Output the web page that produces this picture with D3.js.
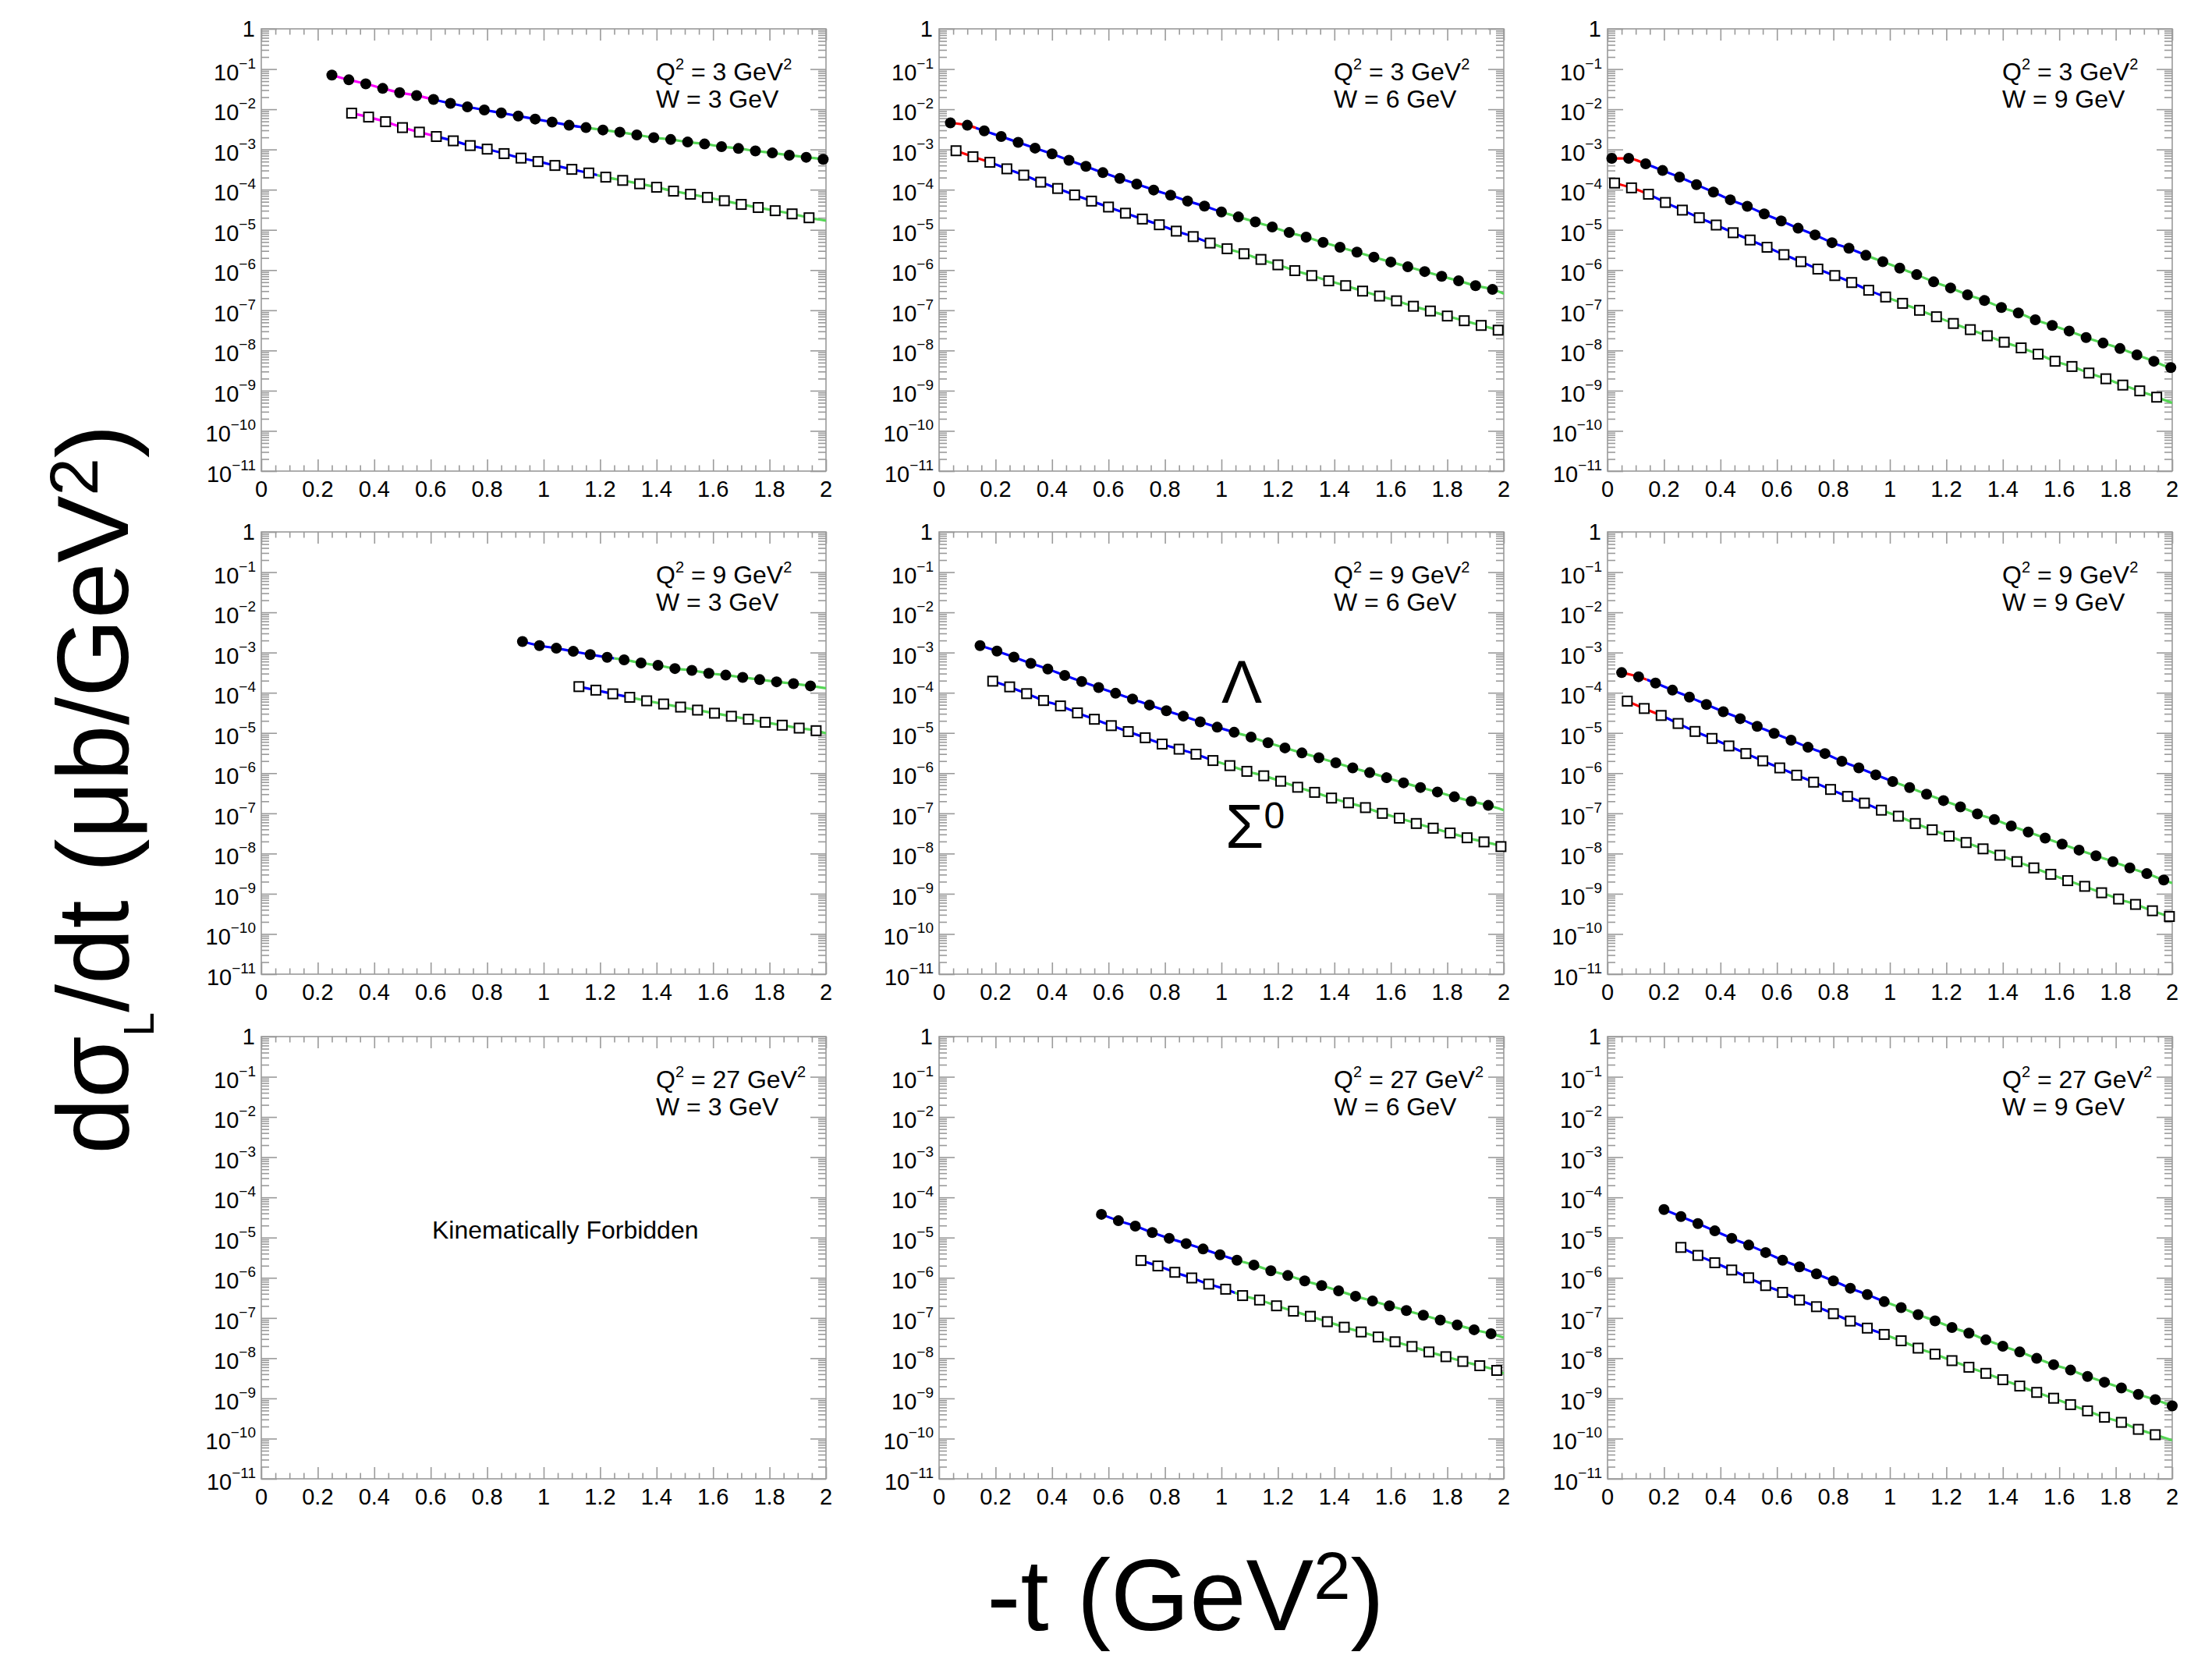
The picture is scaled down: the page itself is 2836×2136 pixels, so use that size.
<!DOCTYPE html>
<html><head><meta charset="utf-8">
<script src="https://cdn.jsdelivr.net/npm/d3@7"></script>
<style>
body{margin:0;background:#fff}
svg{display:block}
text{font-family:"Liberation Sans",Arial,Helvetica,sans-serif;fill:#000;white-space:pre}
</style>
</head><body>
<svg id="c" width="2836" height="2136"></svg>
<script>
// ---------------- DATA ----------------
const Q2_LIST = ["3","3","3","9","9","9","27","27","27"];
const W_LIST  = ["3","6","9","3","6","9","3","6","9"];
const xTickValues = [0,0.2,0.4,0.6,0.8,1,1.2,1.4,1.6,1.8,2];
const xTickLabels = ["0","0.2","0.4","0.6","0.8","1","1.2","1.4","1.6","1.8","2"];
const yTickExps = [0,-1,-2,-3,-4,-5,-6,-7,-8,-9,-10,-11];

// Q2=3, W=3
const tL_33 = [0.25,0.31,0.37,0.43,0.49,0.55,0.61,0.67,0.73,0.79,0.85,0.91,0.97,1.03,1.09,1.15,1.21,1.27,1.33,1.39,1.45,1.51,1.57,1.63,1.69,1.75,1.81,1.87,1.93,1.99];
const yL_33 = [7.1e-2,5.4e-2,4.3e-2,3.3e-2,2.6e-2,2.2e-2,1.75e-2,1.4e-2,1.15e-2,9.6e-3,8.1e-3,6.8e-3,5.7e-3,4.8e-3,4.0e-3,3.5e-3,3.05e-3,2.7e-3,2.3e-3,1.97e-3,1.77e-3,1.53e-3,1.37e-3,1.18e-3,1.06e-3,9.2e-4,8.2e-4,7.2e-4,6.4e-4,5.7e-4];
const tS_33 = [0.32,0.38,0.44,0.50,0.56,0.62,0.68,0.74,0.80,0.86,0.92,0.98,1.04,1.10,1.16,1.22,1.28,1.34,1.40,1.46,1.52,1.58,1.64,1.70,1.76,1.82,1.88,1.94];
const yS_33 = [8.0e-3,6.4e-3,4.9e-3,3.5e-3,2.7e-3,2.1e-3,1.64e-3,1.25e-3,1.02e-3,7.9e-4,6.1e-4,5.0e-4,4.0e-4,3.2e-4,2.6e-4,2.05e-4,1.7e-4,1.4e-4,1.15e-4,9.2e-5,7.7e-5,6.4e-5,5.3e-5,4.3e-5,3.6e-5,3.0e-5,2.5e-5,2.0e-5];
// Q2=3, W=6
const tL_36 = [0.04,0.10,0.16,0.22,0.28,0.34,0.40,0.46,0.52,0.58,0.64,0.70,0.76,0.82,0.88,0.94,1.00,1.06,1.12,1.18,1.24,1.30,1.36,1.42,1.48,1.54,1.60,1.66,1.72,1.78,1.84,1.90,1.96];
const yL_36 = [4.6e-3,4.0e-3,2.9e-3,2.1e-3,1.5e-3,1.08e-3,7.8e-4,5.4e-4,3.8e-4,2.65e-4,1.9e-4,1.38e-4,9.8e-5,7.3e-5,5.2e-5,3.9e-5,2.8e-5,2.1e-5,1.58e-5,1.18e-5,8.6e-6,6.6e-6,4.9e-6,3.7e-6,2.8e-6,2.1e-6,1.59e-6,1.21e-6,9.2e-7,7.0e-7,5.4e-7,4.1e-7,3.3e-7];
const tS_36 = [0.06,0.12,0.18,0.24,0.30,0.36,0.42,0.48,0.54,0.60,0.66,0.72,0.78,0.84,0.90,0.96,1.02,1.08,1.14,1.20,1.26,1.32,1.38,1.44,1.50,1.56,1.62,1.68,1.74,1.80,1.86,1.92,1.98];
const yS_36 = [9.3e-4,6.6e-4,4.8e-4,3.3e-4,2.3e-4,1.54e-4,1.07e-4,7.4e-5,5.2e-5,3.7e-5,2.6e-5,1.86e-5,1.34e-5,9.3e-6,6.8e-6,4.7e-6,3.4e-6,2.55e-6,1.84e-6,1.35e-6,9.7e-7,7.3e-7,5.4e-7,4.1e-7,3.0e-7,2.26e-7,1.72e-7,1.26e-7,9.6e-8,7.2e-8,5.5e-8,4.2e-8,3.2e-8];
// Q2=3, W=9
const tL_39 = [0.015,0.075,0.135,0.195,0.255,0.315,0.375,0.435,0.495,0.555,0.615,0.675,0.735,0.795,0.855,0.915,0.975,1.035,1.095,1.155,1.215,1.275,1.335,1.395,1.455,1.515,1.575,1.635,1.695,1.755,1.815,1.875,1.935,1.995];
const yL_39 = [6.0e-4,6.0e-4,4.4e-4,3.0e-4,2.06e-4,1.33e-4,8.7e-5,5.6e-5,3.85e-5,2.5e-5,1.67e-5,1.10e-5,7.5e-6,4.8e-6,3.5e-6,2.33e-6,1.62e-6,1.12e-6,7.7e-7,5.1e-7,3.6e-7,2.43e-7,1.75e-7,1.17e-7,8.6e-8,5.8e-8,4.2e-8,3.05e-8,2.1e-8,1.53e-8,1.12e-8,7.8e-9,5.4e-9,3.75e-9];
const tS_39 = [0.025,0.085,0.145,0.205,0.265,0.325,0.385,0.445,0.505,0.565,0.625,0.685,0.745,0.805,0.865,0.925,0.985,1.045,1.105,1.165,1.225,1.285,1.345,1.405,1.465,1.525,1.585,1.645,1.705,1.765,1.825,1.885,1.945];
const yS_39 = [1.46e-4,1.11e-4,7.7e-5,4.8e-5,3.1e-5,2.0e-5,1.32e-5,8.5e-6,5.6e-6,3.7e-6,2.42e-6,1.62e-6,1.06e-6,7.3e-7,4.9e-7,3.15e-7,2.14e-7,1.49e-7,1.0e-7,6.9e-8,4.7e-8,3.3e-8,2.32e-8,1.61e-8,1.16e-8,8.1e-9,5.4e-9,4.0e-9,2.75e-9,1.98e-9,1.38e-9,9.9e-10,6.9e-10];
// Q2=9, W=3
const tL_93 = [0.925,0.985,1.045,1.105,1.165,1.225,1.285,1.345,1.405,1.465,1.525,1.585,1.645,1.705,1.765,1.825,1.885,1.945];
const yL_93 = [1.88e-3,1.49e-3,1.28e-3,1.07e-3,8.9e-4,7.6e-4,6.6e-4,5.5e-4,4.8e-4,4.0e-4,3.6e-4,3.05e-4,2.74e-4,2.41e-4,2.12e-4,1.87e-4,1.68e-4,1.48e-4];
const tS_93 = [1.125,1.185,1.245,1.305,1.365,1.425,1.485,1.545,1.605,1.665,1.725,1.785,1.845,1.905,1.965];
const yS_93 = [1.42e-4,1.16e-4,9.4e-5,7.7e-5,6.3e-5,5.25e-5,4.4e-5,3.7e-5,3.1e-5,2.6e-5,2.19e-5,1.84e-5,1.56e-5,1.32e-5,1.14e-5];
// Q2=9, W=6
const tL_96 = [0.145,0.205,0.265,0.325,0.385,0.445,0.505,0.565,0.625,0.685,0.745,0.805,0.865,0.925,0.985,1.045,1.105,1.165,1.225,1.285,1.345,1.405,1.465,1.525,1.585,1.645,1.705,1.765,1.825,1.885,1.945];
const yL_96 = [1.49e-3,1.09e-3,7.7e-4,5.4e-4,3.9e-4,2.69e-4,1.9e-4,1.35e-4,9.7e-5,7.0e-5,4.95e-5,3.57e-5,2.62e-5,1.89e-5,1.39e-5,1.04e-5,7.9e-6,5.7e-6,4.25e-6,3.18e-6,2.42e-6,1.81e-6,1.35e-6,1.03e-6,7.7e-7,5.75e-7,4.4e-7,3.4e-7,2.58e-7,2.0e-7,1.58e-7];
const tS_96 = [0.19,0.25,0.31,0.37,0.43,0.49,0.55,0.61,0.67,0.73,0.79,0.85,0.91,0.97,1.03,1.09,1.15,1.21,1.27,1.33,1.39,1.45,1.51,1.57,1.63,1.69,1.75,1.81,1.87,1.93,1.99];
const yS_96 = [1.94e-4,1.40e-4,9.5e-5,6.4e-5,4.7e-5,3.15e-5,2.19e-5,1.52e-5,1.08e-5,7.6e-6,5.3e-6,3.95e-6,2.96e-6,2.06e-6,1.54e-6,1.11e-6,8.6e-7,6.3e-7,4.46e-7,3.33e-7,2.4e-7,1.83e-7,1.39e-7,1.0e-7,7.6e-8,5.6e-8,4.27e-8,3.25e-8,2.47e-8,1.95e-8,1.49e-8];
// Q2=9, W=9
const tL_99 = [0.05,0.11,0.17,0.23,0.29,0.35,0.41,0.47,0.53,0.59,0.65,0.71,0.77,0.83,0.89,0.95,1.01,1.07,1.13,1.19,1.25,1.31,1.37,1.43,1.49,1.55,1.61,1.67,1.73,1.79,1.85,1.91,1.97];
const yL_99 = [3.17e-4,2.5e-4,1.74e-4,1.16e-4,7.8e-5,5.1e-5,3.38e-5,2.27e-5,1.46e-5,9.8e-6,6.6e-6,4.4e-6,3.07e-6,1.98e-6,1.35e-6,9.1e-7,6.2e-7,4.38e-7,2.99e-7,2.08e-7,1.45e-7,9.7e-8,7.0e-8,4.85e-8,3.44e-8,2.43e-8,1.72e-8,1.22e-8,8.8e-9,6.3e-9,4.4e-9,3.17e-9,2.2e-9];
const tS_99 = [0.07,0.13,0.19,0.25,0.31,0.37,0.43,0.49,0.55,0.61,0.67,0.73,0.79,0.85,0.91,0.97,1.03,1.09,1.15,1.21,1.27,1.33,1.39,1.45,1.51,1.57,1.63,1.69,1.75,1.81,1.87,1.93,1.99];
const yS_99 = [6.2e-5,4.06e-5,2.72e-5,1.72e-5,1.09e-5,7.3e-6,4.75e-6,3.07e-6,2.02e-6,1.35e-6,8.9e-7,5.97e-7,3.93e-7,2.63e-7,1.8e-7,1.2e-7,8.5e-8,5.6e-8,3.9e-8,2.71e-8,1.88e-8,1.31e-8,9.1e-9,6.3e-9,4.4e-9,3.05e-9,2.12e-9,1.53e-9,1.06e-9,7.4e-10,5.43e-10,3.78e-10,2.72e-10];
// Q2=27, W=6
const tL_276 = [0.575,0.635,0.695,0.755,0.815,0.875,0.935,0.995,1.055,1.115,1.175,1.235,1.295,1.355,1.415,1.475,1.535,1.595,1.655,1.715,1.775,1.835,1.895,1.955];
const yL_276 = [3.79e-5,2.63e-5,1.93e-5,1.34e-5,9.6e-6,7.1e-6,5.2e-6,3.73e-6,2.74e-6,2.08e-6,1.5e-6,1.14e-6,8.4e-7,6.4e-7,4.75e-7,3.48e-7,2.65e-7,2.01e-7,1.53e-7,1.17e-7,8.9e-8,6.7e-8,5.1e-8,4.05e-8];
const tS_276 = [0.715,0.775,0.835,0.895,0.955,1.015,1.075,1.135,1.195,1.255,1.315,1.375,1.435,1.495,1.555,1.615,1.675,1.735,1.795,1.855,1.915,1.975];
const yS_276 = [2.69e-6,1.97e-6,1.37e-6,9.9e-7,6.97e-7,5.2e-7,3.61e-7,2.8e-7,2.01e-7,1.48e-7,1.1e-7,8.1e-8,5.9e-8,4.5e-8,3.37e-8,2.56e-8,1.95e-8,1.43e-8,1.09e-8,8.3e-9,6.5e-9,4.97e-9];
// Q2=27, W=9
const tL_279 = [0.20,0.26,0.32,0.38,0.44,0.50,0.56,0.62,0.68,0.74,0.80,0.86,0.92,0.98,1.04,1.10,1.16,1.22,1.28,1.34,1.40,1.46,1.52,1.58,1.64,1.70,1.76,1.82,1.88,1.94,2.00];
const yL_279 = [4.98e-5,3.33e-5,2.23e-5,1.47e-5,9.6e-6,6.5e-6,4.25e-6,2.74e-6,1.87e-6,1.25e-6,8.4e-7,5.5e-7,3.82e-7,2.55e-7,1.81e-7,1.21e-7,8.5e-8,5.8e-8,4.2e-8,2.86e-8,1.99e-8,1.43e-8,9.9e-9,6.9e-9,5.06e-9,3.51e-9,2.53e-9,1.82e-9,1.26e-9,9.3e-10,6.5e-10];
const tS_279 = [0.26,0.32,0.38,0.44,0.50,0.56,0.62,0.68,0.74,0.80,0.86,0.92,0.98,1.04,1.10,1.16,1.22,1.28,1.34,1.40,1.46,1.52,1.58,1.64,1.70,1.76,1.82,1.88,1.94];
const yS_279 = [5.7e-6,3.6e-6,2.37e-6,1.56e-6,1.0e-6,6.4e-7,4.33e-7,2.8e-7,1.91e-7,1.28e-7,8.4e-8,5.6e-8,3.9e-8,2.71e-8,1.78e-8,1.26e-8,8.7e-9,5.96e-9,4.2e-9,2.92e-9,2.03e-9,1.41e-9,1.01e-9,7.0e-10,4.9e-10,3.4e-10,2.54e-10,1.7e-10,1.25e-10];

// fit-curve value at -t = 2 (end of each curve), per panel
const curveEndL = [5.5e-4, 2.6e-7, 3.7e-9, 1.3e-4, 1.2e-7, 1.84e-9, null, 3.25e-8, 6.5e-10];
const curveEndS = [1.7e-5, 2.8e-8, 5.0e-10, 9.8e-6, 1.36e-8, 2.6e-10, null, 4.2e-9, 9.1e-11];

// curve colour segments [from, to, colour]
const segL_33 = [[0.25,0.61,"magenta"],[0.61,1.16,"blue"],[1.16,2,"green"]];
const segS_33 = [[0.32,0.63,"magenta"],[0.63,1.19,"blue"],[1.19,2,"green"]];
const segL_36 = [[0.04,0.13,"red"],[0.13,0.99,"blue"],[0.99,2,"green"]];
const segS_36 = [[0.06,0.18,"red"],[0.18,0.96,"blue"],[0.96,2,"green"]];
const segL_39 = [[0.015,0.14,"red"],[0.14,0.92,"blue"],[0.92,2,"green"]];
const segS_39 = [[0.025,0.15,"red"],[0.15,0.97,"blue"],[0.97,2,"green"]];
const segL_93 = [[0.925,1.25,"blue"],[1.25,2,"green"]];
const segS_93 = [[1.125,1.29,"blue"],[1.29,2,"green"]];
const segL_96 = [[0.145,1.03,"blue"],[1.03,2,"green"]];
const segS_96 = [[0.19,0.96,"blue"],[0.96,2,"green"]];
const segL_99 = [[0.05,0.14,"red"],[0.14,1.01,"blue"],[1.01,2,"green"]];
const segS_99 = [[0.07,0.18,"red"],[0.18,0.97,"blue"],[0.97,2,"green"]];
const segL_276 = [[0.575,1.04,"blue"],[1.04,2,"green"]];
const segS_276 = [[0.715,1.047,"blue"],[1.047,2,"green"]];
const segL_279 = [[0.2,0.995,"blue"],[0.995,2,"green"]];
const segS_279 = [[0.26,0.97,"blue"],[0.97,2,"green"]];

const COLORS = {magenta:"#ff00ff", red:"#ff0000", blue:"#0000ff", green:"#55d655"};

// ---------------- LAYOUT ----------------
const FX = [335, 1204, 2061], FY = [37, 682, 1329];
const FW = 724, FH = 567;
const FRAME = "#9a9a9a";

const seriesTable = [
  [tL_33,yL_33,segL_33, tS_33,yS_33,segS_33],
  [tL_36,yL_36,segL_36, tS_36,yS_36,segS_36],
  [tL_39,yL_39,segL_39, tS_39,yS_39,segS_39],
  [tL_93,yL_93,segL_93, tS_93,yS_93,segS_93],
  [tL_96,yL_96,segL_96, tS_96,yS_96,segS_96],
  [tL_99,yL_99,segL_99, tS_99,yS_99,segS_99],
  null,
  [tL_276,yL_276,segL_276, tS_276,yS_276,segS_276],
  [tL_279,yL_279,segL_279, tS_279,yS_279,segS_279]
];

const svg = d3.select("#c");
svg.append("rect").attr("width",2836).attr("height",2136).attr("fill","#fff");
const defs = svg.append("defs");

const x = d3.scaleLinear().domain([0,2]).range([0,FW]);
const y = d3.scaleLog().domain([1e-11,1]).range([FH,0]);

const xMinor = d3.range(0,41).map(i=>i*0.05).filter(v=>Math.abs(v/0.2-Math.round(v/0.2))>1e-6);
const yMajor = yTickExps.map(e=>Math.pow(10,e));
const yMinor = [];
yTickExps.slice(1).forEach(e=>{ for(let m=2;m<=9;m++) yMinor.push(m*Math.pow(10,e)); });

function tickAxis(g, axisFn, scale, values, size, tr){
  const a = g.append("g").attr("transform",tr)
    .call(axisFn(scale).tickValues(values).tickSizeInner(size).tickSizeOuter(0).tickFormat(""));
  a.select(".domain").remove();
  a.selectAll("line").attr("stroke",FRAME).attr("stroke-width",1.6);
}

const line = d3.line().x(d=>x(d[0])).y(d=>y(d[1])).curve(d3.curveMonotoneX);

for (let p=0;p<9;p++){
  const r = Math.floor(p/3), c = p%3;
  const g = svg.append("g").attr("transform",`translate(${FX[c]},${FY[r]})`);

  // ticks (inward on all four sides)
  tickAxis(g, d3.axisBottom, x, xTickValues, -15, `translate(0,${FH})`);
  tickAxis(g, d3.axisBottom, x, xMinor, -7.5, `translate(0,${FH})`);
  tickAxis(g, d3.axisTop, x, xTickValues, -15, `translate(0,0)`);
  tickAxis(g, d3.axisTop, x, xMinor, -7.5, `translate(0,0)`);
  tickAxis(g, d3.axisLeft, y, yMajor, -20, `translate(0,0)`);
  tickAxis(g, d3.axisLeft, y, yMinor, -10, `translate(0,0)`);
  tickAxis(g, d3.axisRight, y, yMajor, -20, `translate(${FW},0)`);
  tickAxis(g, d3.axisRight, y, yMinor, -10, `translate(${FW},0)`);

  g.append("rect").attr("width",FW).attr("height",FH).attr("fill","none")
    .attr("stroke",FRAME).attr("stroke-width",1.6);

  // x labels
  g.selectAll("text.xl").data(xTickValues).join("text").attr("class","xl")
    .attr("x",d=>x(d)).attr("y",FH+33).attr("text-anchor","middle").attr("font-size",29)
    .text((d,i)=>xTickLabels[i]);

  // y labels
  yTickExps.forEach(e=>{
    const yy = y(Math.pow(10,e));
    if (e===0){
      g.append("text").attr("x",-8).attr("y",yy+10).attr("text-anchor","end").attr("font-size",29).text("1");
    } else {
      const t = g.append("text").attr("x",-7).attr("y",yy+14).attr("text-anchor","end").attr("font-size",29);
      t.append("tspan").text("10");
      t.append("tspan").attr("dy",-15).attr("font-size",19).text("\u2212"+(-e));
    }
  });

  // panel label
  const t1 = g.append("text").attr("x",506).attr("y",66).attr("font-size",32);
  t1.append("tspan").text("Q");
  t1.append("tspan").attr("dy",-14).attr("font-size",20).text("2");
  t1.append("tspan").attr("dy",14).text(` = ${Q2_LIST[p]} GeV`);
  t1.append("tspan").attr("dy",-14).attr("font-size",20).text("2");
  g.append("text").attr("x",506).attr("y",101).attr("font-size",32).text(`W = ${W_LIST[p]} GeV`);

  const s = seriesTable[p];
  if (!s){
    g.append("text").attr("x",219).attr("y",259).attr("font-size",32).text("Kinematically Forbidden");
    continue;
  }
  const sets = [
    {t:s[0], v:s[1], seg:s[2], end:curveEndL[p], kind:"L"},
    {t:s[3], v:s[4], seg:s[5], end:curveEndS[p], kind:"S"}
  ];
  sets.forEach((ser,si)=>{
    const pts = ser.t.map((tv,i)=>[tv, ser.v[i]]);
    if (ser.end!=null && ser.t[ser.t.length-1] < 1.999) pts.push([2, ser.end]);
    ser.seg.forEach((sg,k)=>{
      const id = `cp${p}_${si}_${k}`;
      defs.append("clipPath").attr("id",id).append("rect")
        .attr("x",x(sg[0])).attr("width",x(sg[1])-x(sg[0])).attr("y",-20).attr("height",FH+40);
      g.append("path").datum(pts).attr("d",line).attr("fill","none")
        .attr("stroke",COLORS[sg[2]]).attr("stroke-width",3.2).attr("clip-path",`url(#${id})`);
    });
  });
  sets.forEach(ser=>{
    const pts = ser.t.map((tv,i)=>[tv, ser.v[i]]);
    if (ser.kind==="L"){
      g.selectAll(null).data(pts).join("circle")
        .attr("cx",d=>x(d[0])).attr("cy",d=>y(d[1])).attr("r",7).attr("fill","#000");
    } else {
      g.selectAll(null).data(pts).join("rect")
        .attr("x",d=>x(d[0])-6).attr("y",d=>y(d[1])-6).attr("width",12).attr("height",12)
        .attr("fill","#fff").attr("stroke","#000").attr("stroke-width",2);
    }
  });

  if (p===4){
    g.append("text").attr("x",362).attr("y",219).attr("font-size",78).text("\u039B");
    const sg = g.append("text").attr("x",367).attr("y",405).attr("font-size",80);
    sg.append("tspan").text("\u03A3");
    sg.append("tspan").attr("dy",-25).attr("font-size",48).text("0");
  }
}

// y title
const yt = svg.append("text").attr("transform","translate(164,1012) rotate(-90)")
  .attr("text-anchor","middle").attr("font-size",129);
yt.append("tspan").text("d\u03C3");
yt.append("tspan").attr("dy",33).attr("font-size",55).text("L");
yt.append("tspan").attr("dy",-33).text("/dt (\u03BCb/GeV");
yt.append("tspan").attr("dy",-39).attr("font-size",87).text("2");
yt.append("tspan").attr("dy",39).text(")");

// x title
const xt = svg.append("text").attr("x",1520).attr("y",2090).attr("text-anchor","middle").attr("font-size",130);
xt.append("tspan").text("-t (GeV");
xt.append("tspan").attr("dy",-40).attr("font-size",85).text("2");
xt.append("tspan").attr("dy",40).text(")");
</script>
</body></html>
